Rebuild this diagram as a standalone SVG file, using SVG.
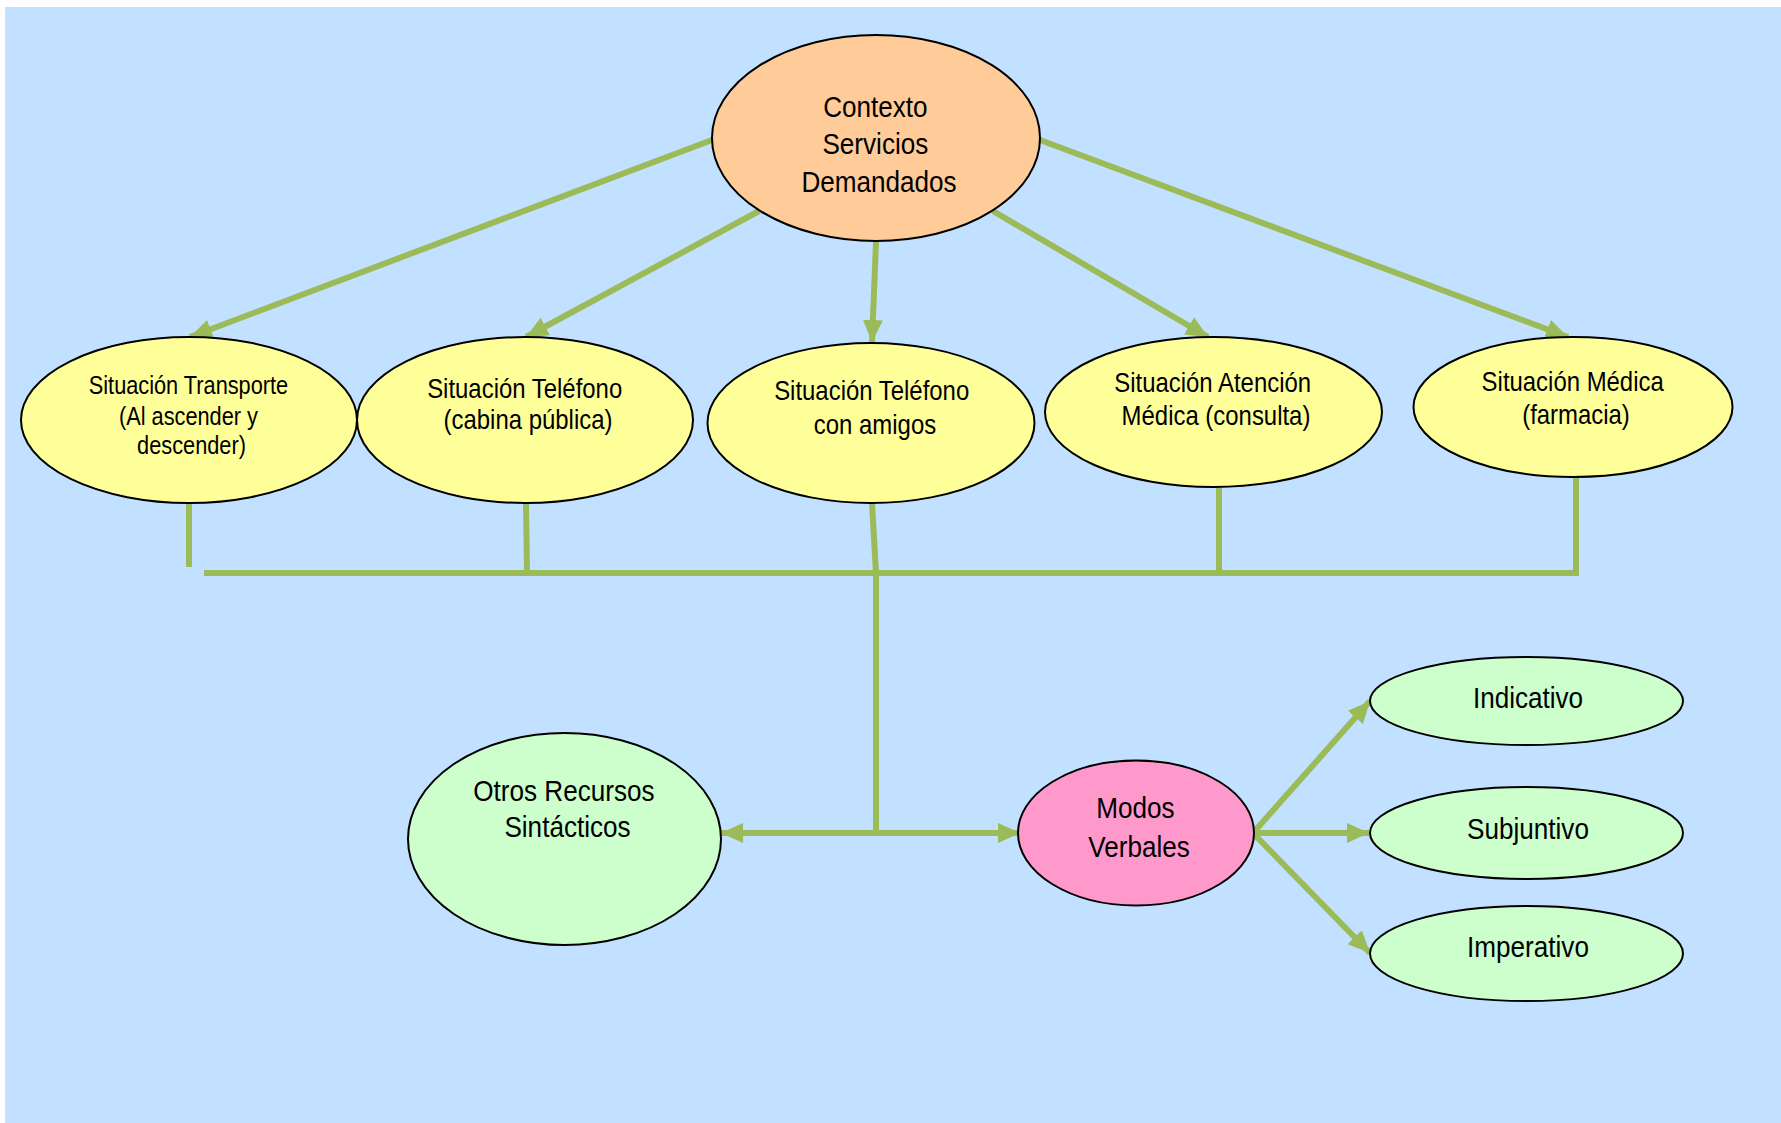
<svg xmlns="http://www.w3.org/2000/svg" width="1781" height="1123" viewBox="0 0 1781 1123">
  <defs>
    <style>
      .n { stroke: #000; stroke-width: 2; }
      .org { fill: #FFCC99; }
      .yel { fill: #FFFF99; }
      .grn { fill: #CCFFCC; }
      .pnk { fill: #FF99CC; }
      .t { font-family: "Liberation Sans", Arial, sans-serif; fill: #000; text-anchor: middle; }
      .big { font-size: 30px; }
      .mid { font-size: 27.5px; }
      .sml { font-size: 25px; }
      .c { fill: none; stroke: #9BBB59; stroke-width: 6; }
      .ca { marker-end: url(#ah); }
    </style>
    <marker id="ah" markerUnits="userSpaceOnUse" markerWidth="24" markerHeight="22" refX="22" refY="10" orient="auto-start-reverse">
      <path d="M0,0 L22,10 L0,20 Z" fill="#9BBB59"/>
    </marker>
  </defs>

  <rect x="0" y="0" width="1781" height="1123" fill="#FFFFFF"/>
  <rect x="5" y="7" width="1776" height="1116" fill="#C2E0FF"/>

  <g id="connectors">
    <line class="c ca" x1="712" y1="140" x2="190" y2="337"/>
    <line class="c ca" x1="759" y1="211" x2="526" y2="337"/>
    <line class="c ca" x1="876" y1="242" x2="872" y2="342"/>
    <line class="c ca" x1="993" y1="211" x2="1208" y2="337"/>
    <line class="c ca" x1="1040" y1="140" x2="1568" y2="337"/>

    <line class="c" x1="189" y1="503" x2="189" y2="567"/>
    <line class="c" x1="526" y1="503" x2="527" y2="573"/>
    <line class="c" x1="872" y1="503" x2="876" y2="573"/>
    <line class="c" x1="1219" y1="487" x2="1219" y2="573"/>
    <line class="c" x1="1576" y1="477" x2="1576" y2="573"/>
    <line class="c" x1="204" y1="573" x2="1579" y2="573"/>

    <line class="c" x1="876" y1="573" x2="876" y2="833"/>
    <line class="c" x1="721" y1="833" x2="1020" y2="833" style="marker-start:url(#ah);marker-end:url(#ah)"/>

    <line class="c ca" x1="1253" y1="833" x2="1370" y2="701"/>
    <line class="c ca" x1="1253" y1="833" x2="1369" y2="833"/>
    <line class="c ca" x1="1253" y1="833" x2="1370" y2="953"/>
  </g>

  <g id="contexto">
    <ellipse class="n org" cx="876" cy="138" rx="164" ry="103"/>
    <text class="t big" transform="translate(879,0) scale(0.87,1)">
      <tspan x="0" y="117">Contexto</tspan>
      <tspan x="0" y="154">Servicios</tspan>
      <tspan x="0" y="192">Demandados</tspan>
    </text>
  </g>

  <g id="transporte">
    <ellipse class="n yel" cx="189" cy="420" rx="168" ry="83"/>
    <text class="t sml" transform="translate(191.5,0) scale(0.87,1)">
      <tspan x="0" y="394">Situación Transporte</tspan>
      <tspan x="0" y="425">(Al ascender y</tspan>
      <tspan x="0" y="454">descender)</tspan>
    </text>
  </g>

  <g id="telefono-cabina">
    <ellipse class="n yel" cx="525" cy="420" rx="168" ry="83"/>
    <text class="t mid" transform="translate(528,0) scale(0.87,1)">
      <tspan x="0" y="398">Situación Teléfono</tspan>
      <tspan x="0" y="429">(cabina pública)</tspan>
    </text>
  </g>

  <g id="telefono-amigos">
    <ellipse class="n yel" cx="871" cy="423" rx="163.5" ry="80"/>
    <text class="t mid" transform="translate(875,0) scale(0.87,1)">
      <tspan x="0" y="400">Situación Teléfono</tspan>
      <tspan x="0" y="434">con amigos</tspan>
    </text>
  </g>

  <g id="atencion-medica">
    <ellipse class="n yel" cx="1213.5" cy="412" rx="168.5" ry="75"/>
    <text class="t mid" transform="translate(1216,0) scale(0.87,1)">
      <tspan x="0" y="392">Situación Atención</tspan>
      <tspan x="0" y="425">Médica (consulta)</tspan>
    </text>
  </g>

  <g id="medica-farmacia">
    <ellipse class="n yel" cx="1573" cy="407" rx="159.5" ry="70"/>
    <text class="t mid" transform="translate(1576,0) scale(0.87,1)">
      <tspan x="0" y="391">Situación Médica</tspan>
      <tspan x="0" y="424">(farmacia)</tspan>
    </text>
  </g>

  <g id="otros-recursos">
    <ellipse class="n grn" cx="564.5" cy="839" rx="156.5" ry="106"/>
    <text class="t big" transform="translate(567.5,0) scale(0.87,1)">
      <tspan x="0" y="801">Otros Recursos</tspan>
      <tspan x="0" y="837">Sintácticos</tspan>
    </text>
  </g>

  <g id="modos-verbales">
    <ellipse class="n pnk" cx="1136" cy="833" rx="118" ry="72.5"/>
    <text class="t big" transform="translate(1139,0) scale(0.87,1)">
      <tspan x="0" y="818">Modos</tspan>
      <tspan x="0" y="857">Verbales</tspan>
    </text>
  </g>

  <g id="indicativo">
    <ellipse class="n grn" cx="1526.5" cy="701" rx="156.5" ry="44"/>
    <text class="t big" transform="translate(1528,0) scale(0.87,1)" x="0" y="708">Indicativo</text>
  </g>

  <g id="subjuntivo">
    <ellipse class="n grn" cx="1526.5" cy="833" rx="156.5" ry="46"/>
    <text class="t big" transform="translate(1528,0) scale(0.87,1)" x="0" y="839">Subjuntivo</text>
  </g>

  <g id="imperativo">
    <ellipse class="n grn" cx="1526.5" cy="953.5" rx="156.5" ry="47.5"/>
    <text class="t big" transform="translate(1528,0) scale(0.87,1)" x="0" y="957">Imperativo</text>
  </g>
</svg>
